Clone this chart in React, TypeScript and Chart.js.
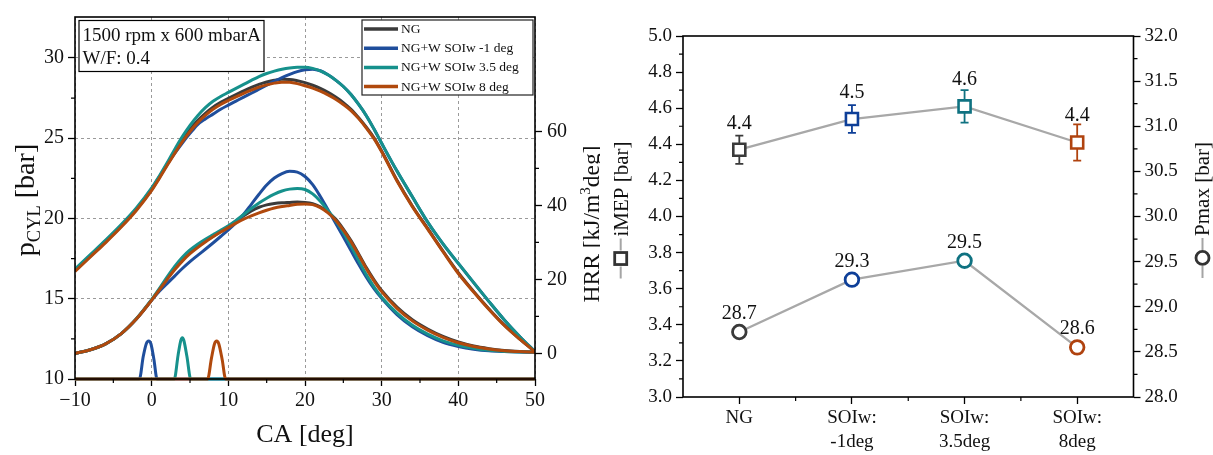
import React, { useEffect, useRef } from 'react';
import { Chart, registerables } from 'chart.js';

Chart.register(...registerables);

const SERIF = '"Liberation Serif", "Times New Roman", serif';
Chart.defaults.font.family = SERIF;

// ---------------- Left panel data ----------------
const CA = [-10, -8, -6, -4, -2, 0, 1, 2, 3, 4, 5, 6, 7, 8, 9, 10, 11, 12, 13, 14, 15, 16, 17, 18, 19, 20, 21, 22, 23, 24, 25, 26, 27, 28, 29, 30, 32, 34, 36, 38, 40, 42, 44, 46, 48, 50];

const P_NG = [16.75, 17.65, 18.55, 19.5, 20.55, 21.8, 22.55, 23.35, 24.15, 24.9, 25.55, 26.1, 26.55, 26.93, 27.23, 27.48, 27.72, 27.95, 28.16, 28.35, 28.5, 28.61, 28.67, 28.66, 28.58, 28.46, 28.3, 28.1, 27.86, 27.57, 27.22, 26.8, 26.27, 25.68, 25.02, 24.2, 22.38, 20.78, 19.38, 17.97, 16.62, 15.45, 14.36, 13.36, 12.5, 11.7];
const P_M1 = [16.8, 17.7, 18.6, 19.55, 20.6, 21.85, 22.6, 23.35, 24.05, 24.7, 25.3, 25.85, 26.2, 26.5, 26.8, 27.06, 27.31, 27.56, 27.8, 28.05, 28.3, 28.55, 28.78, 28.98, 29.15, 29.26, 29.3, 29.2, 28.95, 28.62, 28.22, 27.72, 27.1, 26.4, 25.57, 24.68, 22.95, 21.35, 19.78, 18.42, 17.2, 16.0, 14.82, 13.68, 12.65, 11.7];
const P_35 = [16.85, 17.75, 18.65, 19.6, 20.65, 21.9, 22.65, 23.45, 24.3, 25.1, 25.8, 26.4, 26.9, 27.3, 27.6, 27.85, 28.1, 28.35, 28.6, 28.84, 29.03, 29.18, 29.3, 29.38, 29.42, 29.42, 29.35, 29.2, 28.95, 28.62, 28.22, 27.72, 27.1, 26.4, 25.57, 24.68, 22.95, 21.35, 19.78, 18.42, 17.2, 16.0, 14.82, 13.68, 12.65, 11.7];
const P_8 = [16.7, 17.6, 18.5, 19.45, 20.5, 21.75, 22.5, 23.28, 24.05, 24.78, 25.42, 25.97, 26.42, 26.8, 27.1, 27.35, 27.58, 27.8, 28.0, 28.18, 28.32, 28.43, 28.49, 28.48, 28.4, 28.27, 28.12, 27.93, 27.7, 27.43, 27.1, 26.72, 26.22, 25.63, 24.97, 24.15, 22.33, 20.74, 19.34, 17.93, 16.57, 15.42, 14.33, 13.33, 12.48, 11.7];

const HRR_NG = [0, 1.0, 2.6, 5.3, 9.3, 14.4, 17.3, 20.2, 22.9, 25.3, 27.3, 28.95, 30.35, 31.65, 32.95, 34.3, 35.75, 37.2, 38.5, 39.5, 40.15, 40.5, 40.7, 40.8, 40.9, 40.8, 40.45, 39.6, 38.2, 36.3, 33.6, 30.5, 26.9, 23.2, 19.9, 17.0, 12.5, 9.1, 6.6, 4.6, 3.1, 2.0, 1.3, 0.8, 0.5, 0.35];
const HRR_M1 = [0, 1.0, 2.6, 5.3, 9.3, 14.4, 16.8, 18.85, 20.9, 22.95, 24.8, 26.5, 28.15, 29.85, 31.6, 33.4, 35.35, 37.6, 40.3, 43.0, 45.5, 47.4, 48.6, 49.2, 49.0, 47.8, 45.6, 42.4, 38.8, 35.2, 31.5, 27.8, 24.1, 20.6, 17.5, 14.9, 10.5, 7.2, 4.8, 3.0, 1.9, 1.15, 0.7, 0.5, 0.38, 0.35];
const HRR_35 = [0, 1.0, 2.6, 5.3, 9.4, 14.6, 17.5, 20.6, 23.5, 26.0, 27.95, 29.5, 30.85, 32.05, 33.25, 34.5, 35.95, 37.55, 39.15, 40.65, 41.95, 43.05, 43.9, 44.4, 44.6, 44.3, 43.1, 41.1, 38.6, 35.9, 32.7, 29.0, 25.1, 21.3, 18.0, 15.2, 10.9, 7.6, 5.2, 3.4, 2.2, 1.4, 0.85, 0.55, 0.4, 0.35];
const HRR_8 = [0, 1.0, 2.6, 5.3, 9.3, 14.4, 17.2, 19.95, 22.6, 24.95, 26.95, 28.6, 30.1, 31.5, 32.8, 34.0, 35.2, 36.3, 37.2, 38.0, 38.7, 39.3, 39.7, 40.0, 40.3, 40.4, 40.2, 39.4, 38.0, 36.0, 33.3, 30.2, 26.6, 22.9, 19.6, 16.7, 12.2, 8.8, 6.3, 4.35, 2.9, 1.9, 1.2, 0.75, 0.5, 0.35];

// water-injection signal traces (left axis)
const INJ_M1_CA = [-10, -1.6, -1.1, -0.7, -0.4, -0.1, 0.3, 0.7, 50];
const INJ_M1_P = [10, 10, 11.4, 12.2, 12.37, 12.2, 11.2, 10, 10];
const INJ_35_CA = [-10, 2.95, 3.45, 3.8, 4.0, 4.2, 4.6, 5.1, 50];
const INJ_35_P = [10, 10, 11.5, 12.4, 12.57, 12.4, 11.4, 10, 10];
const INJ_8_CA = [-10, 7.3, 7.8, 8.2, 8.48, 8.75, 9.2, 9.65, 50];
const INJ_8_P = [10, 10, 11.3, 12.2, 12.37, 12.2, 11.2, 10, 10];

const LEGEND_LABELS = ['NG', 'NG+W SOIw -1 deg', 'NG+W SOIw 3.5 deg', 'NG+W SOIw 8 deg'];
const LINE_COLORS = ['#3b3b3b', '#1f4e9c', '#16918c', '#b0490d'];
const NOTE_LINES = ['1500 rpm x 600 mbarA', 'W/F: 0.4'];

const X_MINOR = [-5, 5, 15, 25, 35, 45];
const P_MINOR = [12.5, 17.5, 22.5, 27.5];
const HRR_TICKS = [0, 20, 40, 60];
const HRR_MINOR = [10, 30, 50];

// ---------------- Right panel data ----------------
const CATEGORIES = [['NG'], ['SOIw:', '-1deg'], ['SOIw:', '3.5deg'], ['SOIw:', '8deg']];
const IMEP = [4.37, 4.54, 4.61, 4.41];
const IMEP_ERR = [0.078, 0.077, 0.09, 0.10];
const IMEP_LABELS = ['4.4', '4.5', '4.6', '4.4'];
const PMAX = [28.72, 29.3, 29.51, 28.55];
const PMAX_LABELS = ['28.7', '29.3', '29.5', '28.6'];
const MARKER_COLORS = ['#3a3a3a', '#0e3f98', '#0f7281', '#b0430f'];
const IMEP_MINOR = [3.1, 3.3, 3.5, 3.7, 3.9, 4.1, 4.3, 4.5, 4.7, 4.9];
const PMAX_MINOR = [28.25, 28.75, 29.25, 29.75, 30.25, 30.75, 31.25, 31.75];

type Part = { text?: string; size?: number; dy?: number; icon?: 'square' | 'circle' };

function drawVerticalRich(ctx: CanvasRenderingContext2D, parts: Part[], cx: number, cy: number, baseSize: number) {
  ctx.save();
  ctx.translate(cx, cy);
  ctx.rotate(-Math.PI / 2);
  const widths = parts.map((p) => {
    if (p.icon) return 42;
    ctx.font = `${p.size}px ${SERIF}`;
    return ctx.measureText(p.text || '').width;
  });
  const total = widths.reduce((a, b) => a + b, 0);
  let x = -total / 2;
  const base = baseSize * 0.33;
  ctx.textBaseline = 'alphabetic';
  ctx.textAlign = 'left';
  parts.forEach((p, i) => {
    if (p.icon) {
      ctx.strokeStyle = '#a5a5a5';
      ctx.lineWidth = 2;
      ctx.beginPath();
      ctx.moveTo(x, 0);
      ctx.lineTo(x + 12, 0);
      ctx.moveTo(x + 28, 0);
      ctx.lineTo(x + 40, 0);
      ctx.stroke();
      ctx.fillStyle = '#fff';
      ctx.strokeStyle = '#333';
      ctx.lineWidth = 2.8;
      if (p.icon === 'square') {
        ctx.fillRect(x + 14, -6, 12, 12);
        ctx.strokeRect(x + 14, -6, 12, 12);
      } else {
        ctx.beginPath();
        ctx.arc(x + 20, 0, 6.5, 0, Math.PI * 2);
        ctx.fill();
        ctx.stroke();
      }
    } else {
      ctx.font = `${p.size}px ${SERIF}`;
      ctx.fillStyle = '#111';
      ctx.fillText(p.text || '', x, base + (p.dy || 0));
    }
    x += widths[i];
  });
  ctx.restore();
}

const leftDecor = {
  id: 'leftDecor',
  afterDraw(chart: any) {
    const { ctx, chartArea: a, scales } = chart;
    const sx = scales.x, sy = scales.y, sy1 = scales.y1;
    ctx.save();
    ctx.strokeStyle = '#000';
    ctx.lineWidth = 1.2;
    ctx.beginPath();
    X_MINOR.forEach((v) => {
      const px = sx.getPixelForValue(v);
      ctx.moveTo(px, a.bottom);
      ctx.lineTo(px, a.bottom + 4);
    });
    P_MINOR.forEach((v) => {
      const py = sy.getPixelForValue(v);
      ctx.moveTo(a.left, py);
      ctx.lineTo(a.left - 4, py);
    });
    HRR_MINOR.forEach((v) => {
      const py = sy1.getPixelForValue(v);
      ctx.moveTo(a.right, py);
      ctx.lineTo(a.right + 4, py);
    });
    ctx.stroke();
    ctx.lineWidth = 1.6;
    ctx.strokeRect(a.left, a.top, a.right - a.left, a.bottom - a.top);

    // note box
    const nx = a.left + 4, ny = a.top + 3.5, nw = 185, nh = 51;
    ctx.fillStyle = '#fff';
    ctx.fillRect(nx, ny, nw, nh);
    ctx.lineWidth = 1.2;
    ctx.strokeRect(nx, ny, nw, nh);
    ctx.fillStyle = '#111';
    ctx.font = `19px ${SERIF}`;
    ctx.textBaseline = 'middle';
    ctx.textAlign = 'left';
    ctx.fillText(NOTE_LINES[0], nx + 3.5, ny + 15.5);
    ctx.fillText(NOTE_LINES[1], nx + 3.5, ny + 38.5);

    // legend box
    const lw = 171, lh = 75;
    const lx = a.right - lw - 2, ly = a.top + 3;
    ctx.fillStyle = '#fff';
    ctx.fillRect(lx, ly, lw, lh);
    ctx.strokeStyle = '#222';
    ctx.lineWidth = 1.2;
    ctx.strokeRect(lx, ly, lw, lh);
    ctx.font = `13.5px ${SERIF}`;
    LEGEND_LABELS.forEach((lab, i) => {
      const yy = ly + 9 + i * 19.2;
      ctx.strokeStyle = LINE_COLORS[i];
      ctx.lineWidth = 3.5;
      ctx.beginPath();
      ctx.moveTo(lx + 2, yy);
      ctx.lineTo(lx + 36, yy);
      ctx.stroke();
      ctx.fillStyle = '#111';
      ctx.fillText(lab, lx + 39, yy + 0.5);
    });

    // axis titles
    ctx.font = `26px ${SERIF}`;
    ctx.textAlign = 'center';
    ctx.textBaseline = 'middle';
    ctx.fillStyle = '#111';
    ctx.fillText('CA [deg]', (a.left + a.right) / 2, 435);
    drawVerticalRich(ctx, [
      { text: 'p', size: 28 },
      { text: 'CYL', size: 18.5, dy: 6 },
      { text: ' [bar]', size: 28 },
    ], 25, 200, 28);
    drawVerticalRich(ctx, [
      { text: 'HRR [kJ/m', size: 23.5 },
      { text: '3', size: 15, dy: -9 },
      { text: 'deg]', size: 23.5 },
    ], a.right + 56, 224, 23.5);
    ctx.restore();
  },
};

const rightDecor = {
  id: 'rightDecor',
  beforeDatasetsDraw(chart: any) {
    const { ctx, scales } = chart;
    const sx = scales.x, sy = scales.y;
    ctx.save();
    ctx.lineWidth = 1.8;
    IMEP.forEach((v, i) => {
      const px = sx.getPixelForValue(i);
      const t = sy.getPixelForValue(v + IMEP_ERR[i]);
      const b = sy.getPixelForValue(v - IMEP_ERR[i]);
      ctx.strokeStyle = MARKER_COLORS[i];
      ctx.beginPath();
      ctx.moveTo(px, t);
      ctx.lineTo(px, b);
      ctx.moveTo(px - 4, t);
      ctx.lineTo(px + 4, t);
      ctx.moveTo(px - 4, b);
      ctx.lineTo(px + 4, b);
      ctx.stroke();
    });
    ctx.restore();
  },
  afterDraw(chart: any) {
    const { ctx, chartArea: a, scales } = chart;
    const sx = scales.x, sy = scales.y, sy2 = scales.y2;
    ctx.save();
    ctx.strokeStyle = '#000';
    ctx.lineWidth = 1.2;
    ctx.beginPath();
    for (let i = 0; i < CATEGORIES.length - 1; i++) {
      const px = (sx.getPixelForValue(i) + sx.getPixelForValue(i + 1)) / 2;
      ctx.moveTo(px, a.bottom);
      ctx.lineTo(px, a.bottom + 4);
    }
    IMEP_MINOR.forEach((v) => {
      const py = sy.getPixelForValue(v);
      ctx.moveTo(a.left, py);
      ctx.lineTo(a.left - 4, py);
    });
    PMAX_MINOR.forEach((v) => {
      const py = sy2.getPixelForValue(v);
      ctx.moveTo(a.right, py);
      ctx.lineTo(a.right + 4, py);
    });
    ctx.stroke();
    ctx.lineWidth = 1.6;
    ctx.strokeRect(a.left, a.top, a.right - a.left, a.bottom - a.top);

    ctx.font = `20px ${SERIF}`;
    ctx.fillStyle = '#111';
    ctx.textAlign = 'center';
    ctx.textBaseline = 'middle';
    IMEP.forEach((v, i) => {
      ctx.fillText(IMEP_LABELS[i], sx.getPixelForValue(i), sy.getPixelForValue(v) - 26.3);
    });
    PMAX.forEach((v, i) => {
      ctx.fillText(PMAX_LABELS[i], sx.getPixelForValue(i), sy2.getPixelForValue(v) - 18.3);
    });

    drawVerticalRich(ctx, [{ icon: 'square' }, { text: 'iMEP [bar]', size: 21 }], 20.7, 210, 21);
    drawVerticalRich(ctx, [{ icon: 'circle' }, { text: 'Pmax [bar]', size: 21 }], 602.5, 210, 21);
    ctx.restore();
  },
};

const tickFont = (size: number) => ({ size, family: SERIF });

export default function App() {
  const leftRef = useRef<HTMLCanvasElement | null>(null);
  const rightRef = useRef<HTMLCanvasElement | null>(null);

  useEffect(() => {
    const pts = (xs: number[], ys: number[]) => xs.map((x, i) => ({ x, y: ys[i] }));
    const curve = (ys: number[], color: string, axis: string, order: number) => ({
      data: pts(CA, ys),
      borderColor: color,
      yAxisID: axis,
      order,
      pointRadius: 0,
      borderWidth: 3,
      cubicInterpolationMode: 'monotone',
      fill: false,
    });
    const inj = (xs: number[], ys: number[], color: string, order: number) => ({
      data: pts(xs, ys),
      borderColor: color,
      yAxisID: 'y',
      order,
      pointRadius: 0,
      borderWidth: 3,
      cubicInterpolationMode: 'monotone',
      fill: false,
      clip: false,
    });

    const gridOpts = { color: '#9a9a9a', lineWidth: 1, tickColor: '#000', tickLength: 7, tickWidth: 1.3 };

    const left = new Chart(leftRef.current as HTMLCanvasElement, {
      type: 'line',
      data: {
        datasets: [
          curve(P_NG, LINE_COLORS[0], 'y', 6),
          curve(P_M1, LINE_COLORS[1], 'y', 5),
          curve(P_35, LINE_COLORS[2], 'y', 4),
          curve(P_8, LINE_COLORS[3], 'y', 3),
          curve(HRR_NG, LINE_COLORS[0], 'y1', 6),
          curve(HRR_M1, LINE_COLORS[1], 'y1', 5),
          curve(HRR_35, LINE_COLORS[2], 'y1', 4),
          curve(HRR_8, LINE_COLORS[3], 'y1', 3),
          inj(INJ_M1_CA, INJ_M1_P, LINE_COLORS[1], 2),
          inj(INJ_35_CA, INJ_35_P, LINE_COLORS[2], 1),
          inj(INJ_8_CA, INJ_8_P, LINE_COLORS[3], 0),
        ] as any,
      },
      options: {
        animation: false,
        responsive: false,
        events: [],
        layout: { padding: { top: 8, left: 0, right: 0, bottom: 0 } },
        plugins: { legend: { display: false }, tooltip: { enabled: false } },
        scales: {
          x: {
            type: 'linear',
            min: -10,
            max: 50,
            afterFit: (s: any) => { s.height = 76; },
            ticks: {
              stepSize: 10, autoSkip: false, maxRotation: 0, padding: 3, color: '#111', font: tickFont(20),
              callback: (v: any) => (v < 0 ? '\u2212' + Math.abs(v) : String(v)),
            },
            grid: gridOpts,
            border: { display: false, dash: [3, 3] },
          },
          y: {
            position: 'left',
            min: 10,
            max: 32.55,
            afterFit: (s: any) => { s.width = 75; },
            ticks: { stepSize: 5, includeBounds: false, padding: 4, color: '#111', font: tickFont(20) },
            grid: gridOpts,
            border: { display: false, dash: [3, 3] },
          },
          y1: {
            position: 'right',
            min: -6.9,
            max: 90.9,
            afterFit: (s: any) => { s.width = 65; },
            afterBuildTicks: (s: any) => { s.ticks = HRR_TICKS.map((v) => ({ value: v })); },
            ticks: { padding: 5, color: '#111', font: tickFont(20) },
            grid: { ...gridOpts, drawOnChartArea: false },
            border: { display: false },
          },
        } as any,
      },
      plugins: [leftDecor],
    });

    const right = new Chart(rightRef.current as HTMLCanvasElement, {
      type: 'line',
      data: {
        labels: CATEGORIES as any,
        datasets: [
          {
            data: IMEP, yAxisID: 'y', borderColor: '#a8a8a8', borderWidth: 2.3,
            pointStyle: 'rect', pointRadius: 8.5, pointBorderWidth: 2.6,
            pointBorderColor: MARKER_COLORS, pointBackgroundColor: '#fff', tension: 0,
          },
          {
            data: PMAX, yAxisID: 'y2', borderColor: '#a8a8a8', borderWidth: 2.3,
            pointStyle: 'circle', pointRadius: 6.8, pointBorderWidth: 2.8,
            pointBorderColor: MARKER_COLORS, pointBackgroundColor: '#fff', tension: 0,
          },
        ] as any,
      },
      options: {
        animation: false,
        responsive: false,
        events: [],
        layout: { padding: { top: 36, left: 0, right: 0, bottom: 0 } },
        plugins: { legend: { display: false }, tooltip: { enabled: false } },
        scales: {
          x: {
            type: 'category',
            offset: true,
            afterFit: (s: any) => { s.height = 58; },
            ticks: { autoSkip: false, maxRotation: 0, padding: 2, color: '#111', font: { size: 19, family: SERIF, lineHeight: 1.25 } },
            grid: { ...gridOpts, drawOnChartArea: false },
            border: { display: false },
          },
          y: {
            position: 'left',
            min: 3,
            max: 5,
            afterFit: (s: any) => { s.width = 83; },
            ticks: { stepSize: 0.2, padding: 4, color: '#111', font: tickFont(19), callback: (v: any) => Number(v).toFixed(1) },
            grid: { ...gridOpts, drawOnChartArea: false },
            border: { display: false },
          },
          y2: {
            position: 'right',
            min: 28,
            max: 32,
            afterFit: (s: any) => { s.width = 79.5; },
            ticks: { stepSize: 0.5, padding: 4, color: '#111', font: tickFont(19), callback: (v: any) => Number(v).toFixed(1) },
            grid: { ...gridOpts, drawOnChartArea: false },
            border: { display: false },
          },
        } as any,
      },
      plugins: [rightDecor],
    });

    return () => {
      left.destroy();
      right.destroy();
    };
  }, []);

  return (
    <div style={{ position: 'absolute', left: 0, top: 0, width: 1213, height: 455, background: '#fff' }}>
      <canvas ref={leftRef} width={600} height={455} style={{ position: 'absolute', left: 0, top: 0 }} />
      <canvas ref={rightRef} width={613} height={455} style={{ position: 'absolute', left: 600, top: 0 }} />
    </div>
  );
}
